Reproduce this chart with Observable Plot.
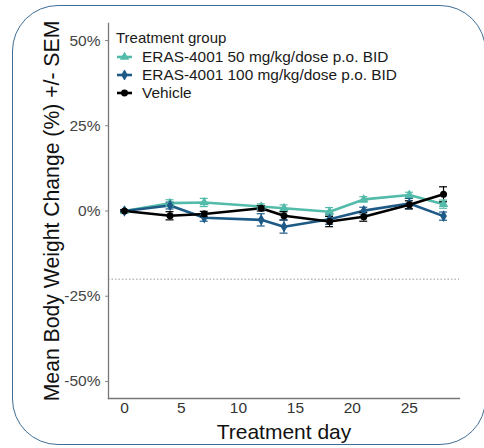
<!DOCTYPE html>
<html>
<head>
<meta charset="utf-8">
<script src="https://cdn.jsdelivr.net/npm/d3@7"></script>
<script src="https://cdn.jsdelivr.net/npm/@observablehq/plot@0.6"></script>
<style>
  html, body { margin: 0; padding: 0; background: #fff; }
  #wrap { position: relative; width: 484px; height: 448px; overflow: hidden; font-family: "Liberation Sans", Arial, Helvetica, sans-serif; }
  #border { position: absolute; left: 12px; top: 5px; width: 474px; height: 440px; border: 1.6px solid #3e6e96; border-radius: 46px; box-sizing: border-box; pointer-events: none; }
  #legend { position: absolute; left: 116px; top: 29px; color: #1a1a1a; }
  #legend .title { font-size: 15px; margin-bottom: 2px; }
  #legend .item { display: flex; align-items: center; height: 18px; font-size: 15.4px; }
  #legend svg { margin-right: 9px; }
</style>
</head>
<body>
<div id="wrap"><div id="chart"></div><div id="legend"></div><div id="border"></div></div>
<script>
const days = [0, 4, 7, 12, 14, 18, 21, 25, 28];
const groups = ["ERAS-4001 50 mg/kg/dose p.o. BID", "ERAS-4001 100 mg/kg/dose p.o. BID", "Vehicle"];
const colors = ["#52bba9", "#1d5a86", "#000000"];
const symbols = ["triangle", "diamond", "circle"];
const mean50 = [0, 2.3, 2.5, 1.3, 0.8, -0.2, 3.4, 4.7, 2.0];
const sem50 = [0.3, 1.0, 1.2, 0.8, 1.0, 1.2, 0.8, 0.8, 1.2];
const mean100 = [0, 1.6, -2.0, -2.6, -4.6, -2.4, 0.1, 2.2, -1.5];
const sem100 = [0.3, 1.0, 1.0, 1.8, 1.9, 1.5, 1.0, 1.5, 1.2];
const meanVeh = [0, -1.4, -0.9, 0.8, -1.4, -3.1, -1.7, 1.8, 4.9];
const semVeh = [0.3, 1.2, 0.8, 0.8, 1.2, 1.5, 1.3, 1.2, 2.2];
const yTicks = [-50, -25, 0, 25, 50];
const xTicks = [0, 5, 10, 15, 20, 25];
const threshold = -20;
const xLabel = "Treatment day";
const yLabel = "Mean Body Weight Change (%) +/- SEM";

const means = [mean50, mean100, meanVeh];
const sems = [sem50, sem100, semVeh];
const data = [];
groups.forEach((g, i) => days.forEach((d, j) => data.push({group: g, day: d, mean: means[i][j], sem: sems[i][j]})));

const cap = 0.35;
const chart = Plot.plot({
  width: 484, height: 448,
  marginLeft: 108, marginRight: 25, marginTop: 23, marginBottom: 50,
  style: {fontFamily: '"Liberation Sans", Arial, Helvetica, sans-serif', background: "transparent"},
  x: {domain: [-1.4, 29.4]},
  y: {domain: [-55, 55]},
  color: {domain: groups, range: colors},
  symbol: {domain: groups, range: symbols},
  marks: [
    Plot.ruleY([threshold], {stroke: "#999", strokeWidth: 1, strokeDasharray: "1.5,2"}),
    Plot.line(data, {x: "day", y: "mean", stroke: "group", z: "group", strokeWidth: 2.6}),
    Plot.ruleX(data, {x: "day", y1: d => d.mean - d.sem, y2: d => d.mean + d.sem, stroke: "group", strokeWidth: 1.2}),
    Plot.ruleY(data, {y: d => d.mean - d.sem, x1: d => d.day - cap, x2: d => d.day + cap, stroke: "group", strokeWidth: 1.2}),
    Plot.ruleY(data, {y: d => d.mean + d.sem, x1: d => d.day - cap, x2: d => d.day + cap, stroke: "group", strokeWidth: 1.2}),
    Plot.dot(data, {x: "day", y: "mean", fill: "group", symbol: "group", r: 3.5}),
    Plot.axisY({ticks: yTicks, tickFormat: d => `${d}%`, tickSize: 3, tickPadding: 5, fontSize: 15.5, label: null, color: "#444", stroke: "#888"}),
    Plot.axisX({ticks: xTicks, tickSize: 0, tickPadding: 3, fontSize: 15.5, label: null, color: "#333"}),
    Plot.frame({anchor: "left", stroke: "#777", strokeWidth: 1.3}),
    Plot.frame({anchor: "bottom", stroke: "#777", strokeWidth: 1.3}),
    Plot.text([yLabel], {frameAnchor: "left", dx: -56, rotate: -90, textAnchor: "middle", fontSize: 21.2, fill: "#111"}),
    Plot.text([xLabel], {frameAnchor: "bottom", dy: 40, fontSize: 21, fill: "#111"})
  ]
});
document.getElementById("chart").appendChild(chart);

const legend = d3.select("#legend");
legend.append("div").attr("class", "title").text("Treatment group");
groups.forEach((g, i) => {
  const item = legend.append("div").attr("class", "item");
  const s = item.append("svg").attr("width", 17).attr("height", 10);
  s.append("line").attr("x1", 1).attr("x2", 16).attr("y1", 5).attr("y2", 5).attr("stroke", colors[i]).attr("stroke-width", 2.6);
  const sym = {triangle: d3.symbolTriangle, diamond: d3.symbolDiamond, circle: d3.symbolCircle}[symbols[i]];
  s.append("path").attr("transform", "translate(8.5,5)").attr("d", d3.symbol(sym, 38)()).attr("fill", colors[i]);
  item.append("span").text(g);
});
</script>
</body>
</html>
